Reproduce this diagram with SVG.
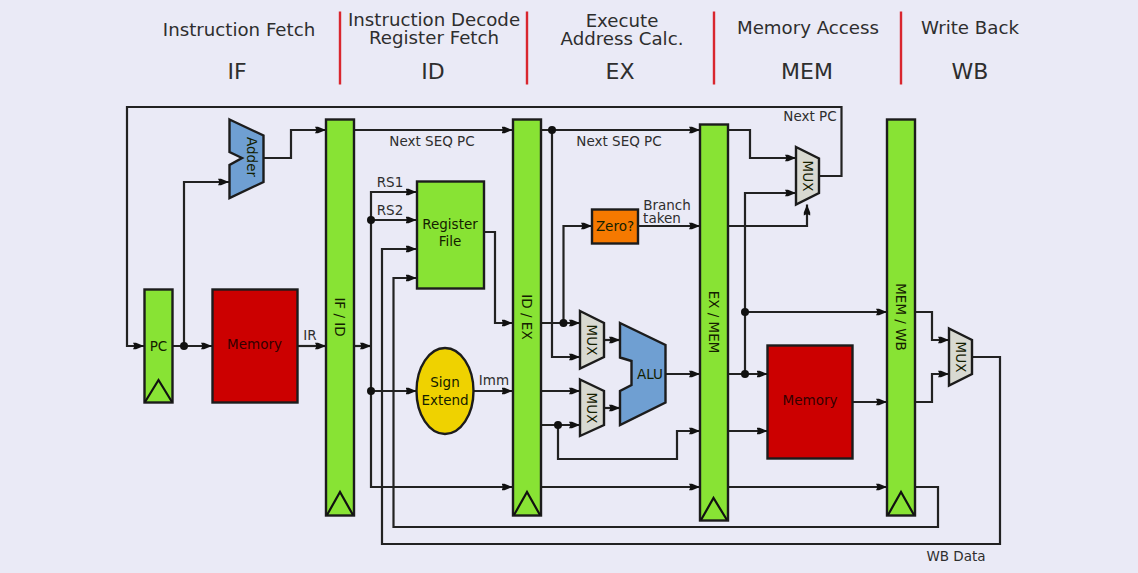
<svg xmlns="http://www.w3.org/2000/svg" width="1138" height="573" viewBox="0 0 1138 573">
<style>
text{font-family:"DejaVu Sans","Liberation Sans",sans-serif;fill:#2e2e2e}
.h{font-size:18.200px;text-anchor:middle}
.s{font-size:22px;text-anchor:middle}
.l{font-size:13.500px;text-anchor:middle}
.n{font-size:13.500px;text-anchor:middle;fill:#142000}
.w{fill:none;stroke:#222;stroke-width:2.200;marker-end:url(#a)}
.b{stroke:#1c1c1c;stroke-width:2.400;stroke-linejoin:miter}
.g{fill:#88e334}.r{fill:#cc0000}.m{fill:#d8d9d1}.u{fill:#6f9fd2}
.t{fill:none;stroke:#111;stroke-width:2.200}
.d{fill:#111}
.sep{stroke:#d9262e;stroke-width:2.400;fill:none}
</style>
<defs>
<marker id="a" markerUnits="userSpaceOnUse" markerWidth="12" markerHeight="9" refX="11" refY="4.500" orient="auto"><path d="M0 1.300L3 1.300L11 4.500L3 7.700L0 7.700L1.500 4.500Z" fill="#111"/></marker>
</defs>
<rect width="1138" height="573" fill="#eaeaf6"/>
<g id="headers">
<text class="h" x="239" y="36">Instruction Fetch</text>
<text class="h"><tspan x="434" y="26">Instruction Decode</tspan><tspan x="434" y="44">Register Fetch</tspan></text>
<text class="h"><tspan x="622" y="27">Execute</tspan><tspan x="622" y="45">Address Calc.</tspan></text>
<text class="h" x="808" y="34">Memory Access</text>
<text class="h" x="970" y="34">Write Back</text>
<text class="s" x="237" y="79">IF</text>
<text class="s" x="433" y="79">ID</text>
<text class="s" x="620" y="79">EX</text>
<text class="s" x="807" y="79">MEM</text>
<text class="s" x="970" y="79">WB</text>
<path class="sep" d="M340 11.500V84.500M527 11.500V84.500M714 11.500V84.500M901 11.500V84.500"/>
</g>
<g id="connectors">
<path class="w" d="M819 176H841.500V107H127V346H144"/>
<path class="w" d="M172.500 346H212"/>
<path class="w" d="M184 346V182H229"/>
<path class="w" d="M263 158H291V130H326"/>
<path class="w" d="M297 346H326"/>
<path class="w" d="M354 130H512.500"/>
<path class="w" d="M541 130H700"/>
<path class="w" d="M552 130V357H580"/>
<path class="w" d="M727.500 130H750V158H796"/>
<path class="w" d="M354 346H371"/>
<path class="w" d="M371 220V192H416.500"/>
<path class="w" d="M371 220H416.500"/>
<path class="w" d="M371 220V487H512.500"/>
<path class="w" d="M371 391H416.500"/>
<path class="w" d="M473.500 391H512.500"/>
<path class="w" d="M484 232H495V323H512.500"/>
<path class="w" d="M541 323H580"/>
<path class="w" d="M563.500 323V226H592"/>
<path class="w" d="M638 226H700"/>
<path class="w" d="M727.500 226H807V204.500"/>
<path class="w" d="M541 391H580"/>
<path class="w" d="M541 425H580"/>
<path class="w" d="M558 425V459H677V431H700"/>
<path class="w" d="M604 340H620"/>
<path class="w" d="M604 408H620"/>
<path class="w" d="M665.500 374H700"/>
<path class="w" d="M541 487H700"/>
<path class="w" d="M727.500 374H767.500"/>
<path class="w" d="M745 374V193H796"/>
<path class="w" d="M745 312H887"/>
<path class="w" d="M727.500 431H767.500"/>
<path class="w" d="M727.500 487H887"/>
<path class="w" d="M852.500 402H887"/>
<path class="w" d="M915 312H932V340H949"/>
<path class="w" d="M915 402H932V374H949"/>
<path class="w" d="M972 357H1000V544H382V249H416.500"/>
<path class="w" d="M915 487H938V527H393.500V278H416.500"/>
<circle class="d" cx="184" cy="346" r="4"/>
<circle class="d" cx="371" cy="220" r="4"/>
<circle class="d" cx="371" cy="391" r="4"/>
<circle class="d" cx="552" cy="130" r="4"/>
<circle class="d" cx="563.500" cy="323" r="4"/>
<circle class="d" cx="558" cy="425" r="4"/>
<circle class="d" cx="745" cy="374" r="4"/>
<circle class="d" cx="745" cy="312" r="4"/>
<g id="wire-labels">
<text class="l" x="310" y="340">IR</text>
<text class="l" x="432" y="146">Next SEQ PC</text>
<text class="l" x="619" y="146">Next SEQ PC</text>
<text class="l" x="390" y="187">RS1</text>
<text class="l" x="390" y="215">RS2</text>
<text class="l" x="494" y="385">Imm</text>
<text class="l"><tspan x="667" y="210">Branch</tspan><tspan x="662" y="223">taken</tspan></text>
<text class="l" x="810" y="121">Next PC</text>
<text class="l" x="956" y="561">WB Data</text>
</g>
</g>
<g id="pc"><rect class="b g" x="144.500" y="289.500" width="28" height="113"/><path class="t" d="M145 402L158.500 380L172 402"/><text class="n" x="158.500" y="351">PC</text></g>
<g id="imem"><rect class="b r" x="212.500" y="289.500" width="85" height="113"/><text class="n" x="254.500" y="349" style="fill:#300">Memory</text></g>
<g id="adder"><path class="b u" d="M229.500 119.500L263.500 135.500V182L229.500 198V165L242 158L229.500 152Z"/><text class="n" transform="translate(247 157) rotate(90)">Adder</text></g>
<g id="if-id"><rect class="b g" x="326" y="119.500" width="28" height="396"/><path class="t" d="M327 515L340 492L353 515"/><text class="n" transform="translate(335 317) rotate(90)">IF / ID</text></g>
<g id="regfile"><rect class="b g" x="417" y="181.500" width="67" height="107"/><text class="n"><tspan x="450" y="229">Register</tspan><tspan x="450" y="246">File</tspan></text></g>
<g id="sign-extend"><ellipse class="b" cx="445" cy="391" rx="28.500" ry="43" fill="#efd200"/><text class="n"><tspan x="445" y="387">Sign</tspan><tspan x="445" y="405">Extend</tspan></text></g>
<g id="id-ex"><rect class="b g" x="513" y="119.500" width="28" height="396"/><path class="t" d="M514 515L527 492L540 515"/><text class="n" transform="translate(522 317) rotate(90)">ID / EX</text></g>
<g id="zero"><rect class="b" x="592" y="209.500" width="46" height="34" fill="#f57900"/><text class="n" x="615" y="231">Zero?</text></g>
<g id="mux-a"><path class="b m" d="M580 311L604 323V357L580 368.500Z"/><text class="n" transform="translate(586.500 340) rotate(90)">MUX</text></g>
<g id="mux-b"><path class="b m" d="M580 379.500L604 391V425L580 436Z"/><text class="n" transform="translate(586.500 408) rotate(90)">MUX</text></g>
<g id="alu"><path class="b u" d="M620 323L665.500 345V402.500L620 425V391L631.500 385V361L620 357.500Z"/><text class="n" x="650" y="379">ALU</text></g>
<g id="ex-mem"><rect class="b g" x="700" y="124.500" width="28" height="396"/><path class="t" d="M701 520L713.500 498L727 520"/><text class="n" transform="translate(709 322) rotate(90)">EX / MEM</text></g>
<g id="mux-pc"><path class="b m" d="M796 147L819 158.500V193L796 204.500Z"/><text class="n" transform="translate(802.500 176) rotate(90)">MUX</text></g>
<g id="dmem"><rect class="b r" x="767.500" y="345.500" width="85" height="113"/><text class="n" x="810" y="405" style="fill:#300">Memory</text></g>
<g id="mem-wb"><rect class="b g" x="887" y="119.500" width="28" height="396"/><path class="t" d="M888 515L901 492L914 515"/><text class="n" transform="translate(896 317) rotate(90)">MEM / WB</text></g>
<g id="mux-wb"><path class="b m" d="M949 328.500L972 340V374L949 385.500Z"/><text class="n" transform="translate(955.500 357) rotate(90)">MUX</text></g>
</svg>
